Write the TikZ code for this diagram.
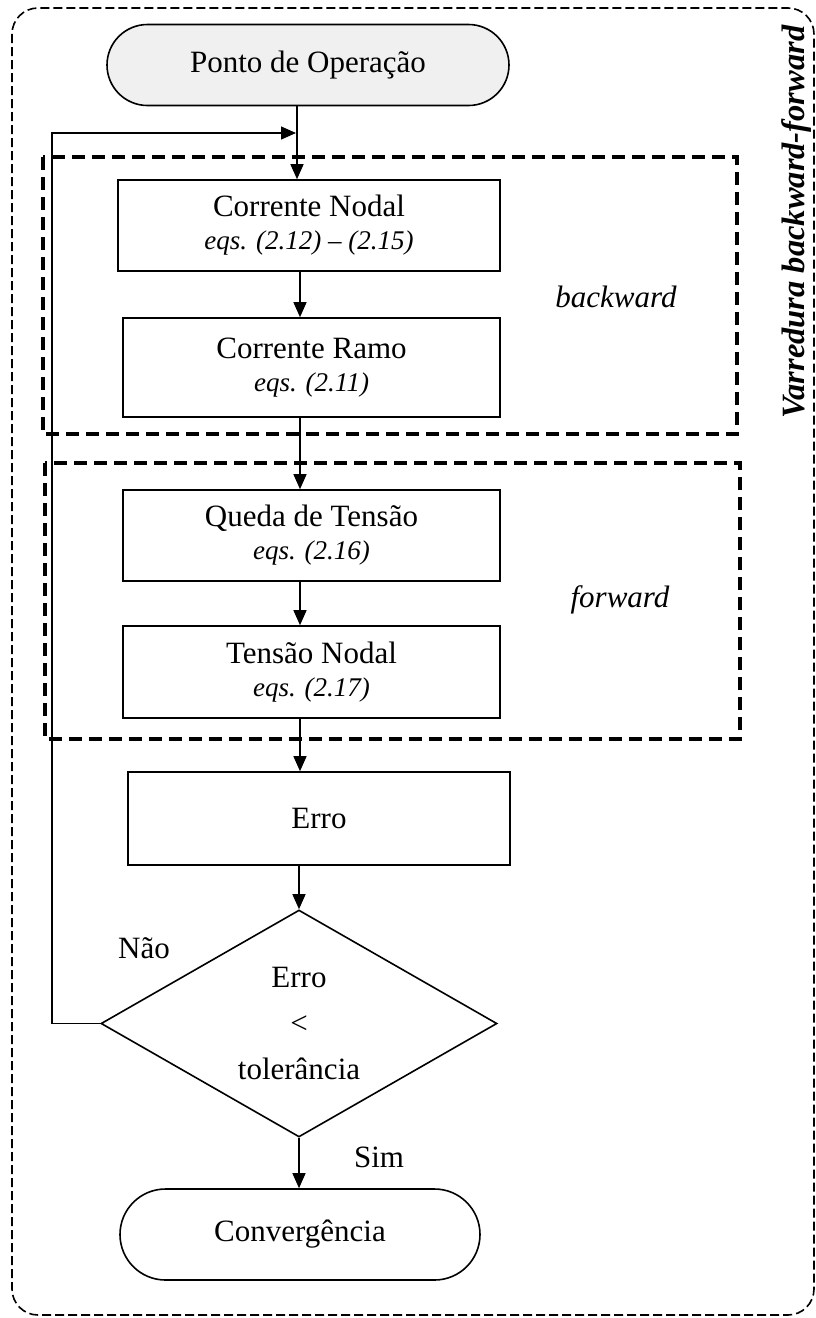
\documentclass[tikz,border=0pt]{standalone}
\usepackage{fontspec}
\setmainfont{Liberation Serif}
\usetikzlibrary{arrows.meta,shapes.misc,shapes.geometric}

\begin{document}
\begin{tikzpicture}[x=1pt,y=-1pt,
  txt/.style={font=\fontsize{31}{33}\selectfont},
  stepbox/.style={draw, line width=1.6pt, inner sep=0pt, align=center, txt},
  term/.style={draw, line width=1.6pt, rounded rectangle, inner sep=0pt, align=center, txt},
  decision/.style={draw, line width=1.6pt, diamond, aspect=1.75, inner sep=0pt,
    align=center, font=\fontsize{31}{46}\selectfont},
  group/.style={line width=3.2pt, dash pattern=on 13pt off 7pt},
  frame/.style={line width=1.6pt, dash pattern=on 9pt off 4pt, rounded corners=26pt},
  arr/.style={line width=1.3pt, -{Triangle[length=15pt,width=13pt]}},
  lbl/.style={txt, inner sep=0pt}]
\newcommand{\eqtext}[1]{{\fontsize{27}{33}\selectfont\itshape #1}}
\useasboundingbox (0,0) rectangle (816,1318);

% outer frame and its title
\draw[frame] (12,8) rectangle (814,1315);
\node[rotate=90, inner sep=0pt, font=\fontsize{32.5}{34}\selectfont\bfseries\itshape]
  (title) at (797,222) {Varredura backward-forward};

% backward and forward groups
\draw[group] (43,157) rectangle (737,434);
\draw[group] (45,463) rectangle (740,739);
\node[lbl, font=\fontsize{31}{33}\selectfont\itshape] (bw) at (616,297) {backward};
\node[lbl, font=\fontsize{31}{33}\selectfont\itshape] (fw) at (620,600) {forward};

% flow nodes
\node[term, fill=black!6, minimum width=402pt, minimum height=81pt] (start) at (308,65) {Ponto de Operação};
\node[stepbox, minimum width=382pt, minimum height=91pt] (b1) at (309,225.5)
  {Corrente Nodal\\ \eqtext{eqs. (2.12) – (2.15)}};
\node[stepbox, minimum width=377pt, minimum height=99pt] (b2) at (311.5,367.5)
  {Corrente Ramo\\ \eqtext{eqs. (2.11)}};
\node[stepbox, minimum width=377pt, minimum height=91pt] (b3) at (311.5,535.5)
  {Queda de Tensão\\ \eqtext{eqs. (2.16)}};
\node[stepbox, minimum width=377pt, minimum height=92pt] (b4) at (311.5,672)
  {Tensão Nodal\\ \eqtext{eqs. (2.17)}};
\node[stepbox, minimum width=382pt, minimum height=93pt] (err) at (319,818.5) {Erro};
\node[decision, minimum width=396pt, minimum height=227pt] (dia) at (299,1023.5)
  {Erro\\ <\\ tolerância};
\node[term, minimum width=360pt, minimum height=91pt] (conv) at (300,1234.5) {Convergência};

\node[lbl] (nao) at (144,948) {Não};
\node[lbl] (sim) at (379,1157) {Sim};

% connectors
\coordinate (ax) at (297,0);
\coordinate (ay) at (300,0);
\coordinate (loopTop) at (52,133);
\coordinate (merge) at (296,133);
\draw[arr] (start.south -| ax) -- (b1.north -| ax);
\draw[arr] (b1.south -| ay) -- (b2.north -| ay);
\draw[arr] (b2.south -| ay) -- (b3.north -| ay);
\draw[arr] (b3.south -| ay) -- (b4.north -| ay);
\draw[arr] (b4.south -| ay) -- (err.north -| ay);
\draw[arr] (err.south -| dia.north) -- (dia.north);
\draw[arr] (dia.south) -- (conv.north -| dia.south);
\draw[arr] (dia.west) -| (loopTop) -- (merge);
\end{tikzpicture}
\end{document}
